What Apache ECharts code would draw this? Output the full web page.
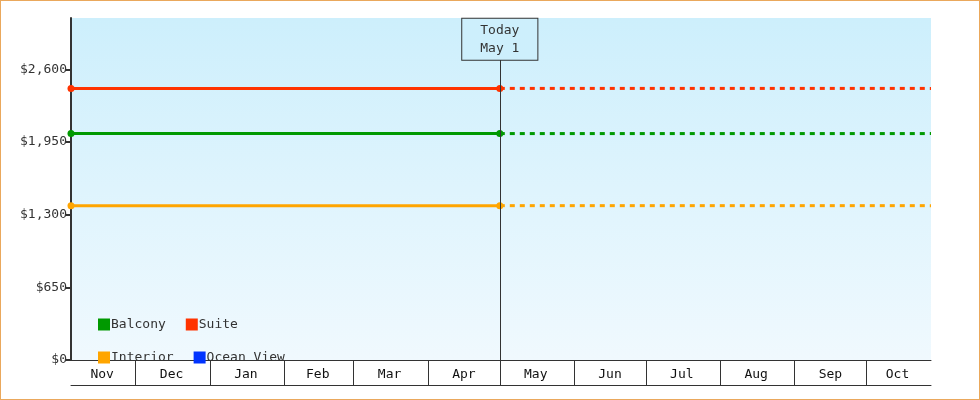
<!DOCTYPE html>
<html><head><meta charset="utf-8">
<script src="https://cdn.jsdelivr.net/npm/echarts@6/dist/echarts.min.js"></script>
<style>html,body{margin:0;padding:0;background:#fff}#c{width:978px;height:398px;border:1px solid #eaa85c}</style>
</head><body><div id="c"></div>
<script>
const startDate = '2023-11-04';
const todayDate = '2024-05-01';
const endDate = '2024-10-28';
const cabins = ['Balcony', 'Suite', 'Interior', 'Ocean View'];
const prices = [2026, 2430, 1381, null];
const colors = ['#009900', '#ff3300', '#ffa500', '#0033ff'];
const monthLabels = ['Nov','Dec','Jan','Feb','Mar','Apr','May','Jun','Jul','Aug','Sep','Oct'];
const monthBounds = ['2023-12-01','2024-01-01','2024-02-01','2024-03-01','2024-04-01','2024-05-01','2024-06-01','2024-07-01','2024-08-01','2024-09-01','2024-10-01'];
const labelDates = ['2023-11-17','2023-12-16','2024-01-16','2024-02-15','2024-03-16','2024-04-16','2024-05-16','2024-06-16','2024-07-16','2024-08-16','2024-09-16','2024-10-14'];

const font = 'DejaVu Sans Mono';
const ts = d => new Date(d + 'T00:00:00Z').getTime() / 86400000;
const labelVals = labelDates.map(ts);
const series = [];
cabins.forEach((c, i) => {
  const p = prices[i];
  series.push({
    name: c, type: 'line', color: colors[i],
    data: p == null ? [] : [[ts(startDate), p], [ts(todayDate), p]],
    symbol: 'circle', symbolSize: 7, lineStyle: {width: 3}, z: 3
  });
  series.push({
    name: c, type: 'line', color: colors[i],
    data: p == null ? [] : [[ts(todayDate), p], [ts(endDate), p]],
    symbol: 'none', lineStyle: {width: 3, type: [5, 5]}, z: 2
  });
});
series.push({
  type: 'line', data: [], silent: true,
  markLine: {symbol: 'none', silent: true, animation: false,
    lineStyle: {color: '#333', width: 1, type: 'solid'}, label: {show: false},
    data: [[{coord: [ts(todayDate), 0]}, {coord: [ts(todayDate), 3060]}]]},
  markPoint: {symbol: 'rect', symbolSize: 0, silent: true, animation: false,
    label: {show: true, formatter: 'Today\nMay 1', fontFamily: font, fontSize: 13, color: '#333',
      lineHeight: 18, backgroundColor: '#cdeffc', borderColor: '#333', borderWidth: 1,
      padding: [3, 18, 2, 18], position: 'inside'},
    data: [{coord: [ts(todayDate), 2870]}]}
});

const chart = echarts.init(document.getElementById('c'));
chart.setOption({
  animation: false,
  grid: {left: 70, right: 48, top: 17, bottom: 39, show: true, borderWidth: 0,
    backgroundColor: new echarts.graphic.LinearGradient(0, 0, 0, 1, [{offset: 0, color: '#cdeffc'}, {offset: 1, color: '#f0f9fe'}])},
  legend: {left: 92, top: 312, width: 200, itemWidth: 12, itemHeight: 12, itemGap: 20, icon: 'rect',
    data: cabins, textStyle: {fontFamily: font, fontSize: 13, color: '#333', padding: [0, 0, 0, -4]}},
  xAxis: [{
    type: 'value', min: ts(startDate), max: ts(endDate),
    axisLine: {lineStyle: {color: '#333', width: 1}},
    axisTick: {show: true, length: 25, customValues: monthBounds.map(ts), lineStyle: {color: '#333'}},
    axisLabel: {customValues: labelVals, margin: 8, fontFamily: font, fontSize: 13, color: '#111',
      formatter: v => { let k = 0, b = 1e9; labelVals.forEach((x, j) => { if (Math.abs(x - v) < b) { b = Math.abs(x - v); k = j; } }); return monthLabels[k]; }},
    splitLine: {show: false}
  }, {
    type: 'value', min: ts(startDate), max: ts(endDate), position: 'bottom', offset: 25,
    axisLine: {show: true, lineStyle: {color: '#333', width: 1}}, axisTick: {show: false}, axisLabel: {show: false}, splitLine: {show: false}
  }],
  yAxis: {
    type: 'value', min: 0, max: 3060, interval: 650,
    axisLine: {show: true, lineStyle: {color: '#333', width: 2}},
    axisTick: {show: true, length: 5, lineStyle: {color: '#333', width: 2}},
    axisLabel: {showMaxLabel: false, fontFamily: font, fontSize: 13, color: '#333', margin: 4,
      formatter: v => '$' + v.toLocaleString('en-US')},
    splitLine: {show: false}
  },
  series: series
});
</script></body></html>
